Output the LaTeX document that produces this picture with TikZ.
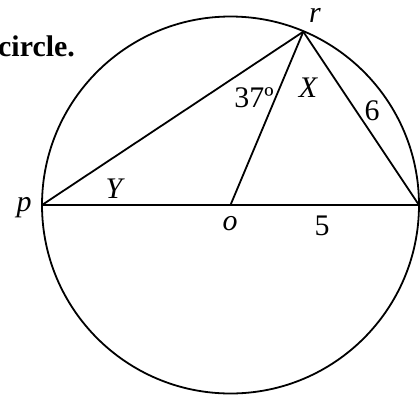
\documentclass[tikz,border=0pt]{standalone}
\usepackage{fontspec}
\setmainfont{Liberation Serif}
\begin{document}
\begin{tikzpicture}[x=1bp,y=-1bp,
  geo/.style={line width=1.8bp, line join=round},
  lbl/.style={inner sep=0pt, anchor=base, font=\fontsize{30}{36}\selectfont},
  ilbl/.style={lbl, font=\fontsize{30}{36}\selectfont\itshape}]
\useasboundingbox (0,0) rectangle (420,399);
\coordinate (o) at (230.5,205);
\coordinate (p) at (42,205);
\coordinate (q) at (419,205);
\coordinate (r) at (303.3,31.7);
\draw[geo] (o) circle[radius=188.5];
\draw[geo] (p) -- (q) -- (r) -- cycle;
\draw[geo] (o) -- (r);
\node[lbl, anchor=base west, font=\fontsize{30}{36}\selectfont\bfseries] (lcircle) at (-2,56) {circle.};
\node[ilbl] (lr) at (315,22) {r};
\node[lbl] (l37) at (254,107) {37º};
\node[ilbl] (lX) at (308,97) {X};
\node[lbl] (l6) at (372,120) {6};
\node[ilbl] (lY) at (114,198) {Y};
\node[ilbl] (lp) at (24,211) {p};
\node[ilbl] (lo) at (230,230) {o};
\node[lbl] (l5) at (322,235) {5};
\end{tikzpicture}
\end{document}
